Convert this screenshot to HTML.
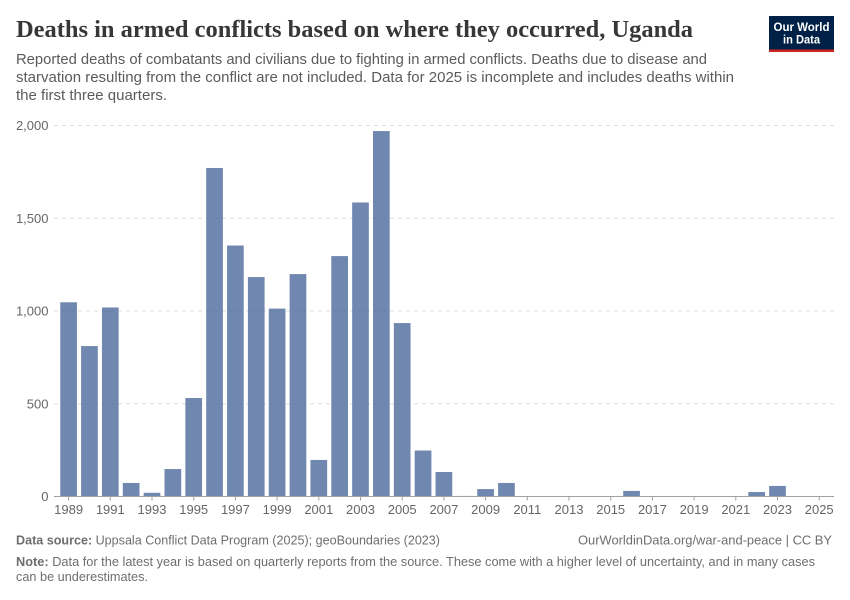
<!DOCTYPE html>
<html lang="en">
<head>
<meta charset="utf-8">
<title>Deaths in armed conflicts based on where they occurred, Uganda</title>
<style>
html,body{margin:0;padding:0;background:#fff;}
svg{display:block;}
text{font-family:"Liberation Sans",sans-serif;}
</style>
</head>
<body>
<svg id="chart" xmlns="http://www.w3.org/2000/svg" width="850" height="600" viewBox="0 0 850 600">
  <rect x="0" y="0" width="850" height="600" fill="#ffffff"/>
  <text x="16" y="37" font-size="24" font-weight="700" fill="#373737" textLength="677" lengthAdjust="spacingAndGlyphs" style='font-family:"Liberation Serif",serif'>Deaths in armed conflicts based on where they occurred, Uganda</text>
  <g font-size="14.5" fill="#5b5b5b">
    <text x="16" y="64" textLength="691" lengthAdjust="spacingAndGlyphs">Reported deaths of combatants and civilians due to fighting in armed conflicts. Deaths due to disease and</text>
    <text x="16" y="82" textLength="718" lengthAdjust="spacingAndGlyphs">starvation resulting from the conflict are not included. Data for 2025 is incomplete and includes deaths within</text>
    <text x="16" y="100" textLength="151" lengthAdjust="spacingAndGlyphs">the first three quarters.</text>
  </g>
  <g>
    <rect x="769" y="16" width="65" height="36" fill="#002147"/>
    <rect x="769" y="49.5" width="65" height="2.5" fill="#ce261e"/>
    <text x="801.5" y="31" font-size="12" font-weight="700" fill="#ffffff" text-anchor="middle" textLength="56" lengthAdjust="spacingAndGlyphs">Our World</text>
    <text x="801.5" y="43.5" font-size="12" font-weight="700" fill="#ffffff" text-anchor="middle" textLength="37" lengthAdjust="spacingAndGlyphs">in Data</text>
  </g>
  <g id="grid"></g>
  <g id="yLabels"></g>
  <g id="bars"></g>
  <g id="xAxis"></g>
  <text x="16" y="544.5" font-size="13" fill="#6e6e6e" textLength="424" lengthAdjust="spacingAndGlyphs"><tspan font-weight="700">Data source:</tspan> Uppsala Conflict Data Program (2025); geoBoundaries (2023)</text>
  <text x="832" y="544.5" font-size="13" fill="#6e6e6e" text-anchor="end" textLength="254" lengthAdjust="spacingAndGlyphs">OurWorldinData.org/war-and-peace | CC BY</text>
  <g font-size="13" fill="#6e6e6e">
    <text x="16" y="566" textLength="799" lengthAdjust="spacingAndGlyphs"><tspan font-weight="700">Note:</tspan> Data for the latest year is based on quarterly reports from the source. These come with a higher level of uncertainty, and in many cases</text>
    <text x="16" y="581" textLength="132" lengthAdjust="spacingAndGlyphs">can be underestimates.</text>
  </g>
</svg>
<script>
var years = [1989,1990,1991,1992,1993,1994,1995,1996,1997,1998,1999,2000,2001,2002,2003,2004,2005,2006,2007,2008,2009,2010,2011,2012,2013,2014,2015,2016,2017,2018,2019,2020,2021,2022,2023,2024,2025];
var deaths = [1047,811,1019,73,20,148,531,1771,1353,1183,1013,1199,197,1296,1585,1970,935,248,132,3,40,73,0,0,0,0,0,30,0,0,0,0,0,24,57,0,0];
var yTicks = [0,500,1000,1500,2000];
var yTickLabels = ["0","500","1,000","1,500","2,000"];
var xTickYears = [1989,1991,1993,1995,1997,1999,2001,2003,2005,2007,2009,2011,2013,2015,2017,2019,2021,2023,2025];

var NS = "http://www.w3.org/2000/svg";
var plotLeft = 54, plotRight = 834, plotTop = 125.5, plotBottom = 496.5;
var yMax = yTicks[yTicks.length - 1];
var firstX = 68.6, stepX = 20.85, barWidth = 16.7;

function xScale(year) { return firstX + (year - years[0]) * stepX; }
function yScale(value) { return plotBottom - (value / yMax) * (plotBottom - plotTop); }
function make(tag, attrs, parent) {
  var el = document.createElementNS(NS, tag);
  for (var k in attrs) { el.setAttribute(k, attrs[k]); }
  parent.appendChild(el);
  return el;
}

var grid = document.getElementById("grid");
var yLabels = document.getElementById("yLabels");
var barsG = document.getElementById("bars");
var xAxis = document.getElementById("xAxis");

yTicks.forEach(function (t, i) {
  if (t !== 0) {
    var line = make("line", {x1: plotLeft, x2: plotRight, y1: yScale(t), y2: yScale(t), stroke: "#dddddd", "stroke-width": 1, "stroke-dasharray": "4,4"}, grid);
    
    
  }
  var label = make("text", {x: 48.5, y: yScale(t) + 4.5, "font-size": 13, fill: "#666666", "text-anchor": "end"}, yLabels);
  
  
  label.textContent = yTickLabels[i];
});

years.forEach(function (year, i) {
  var v = deaths[i];
  if (v <= 0) { return; }
  var top = yScale(v);
  var bar = make("rect", {x: xScale(year) - barWidth / 2, y: top, width: barWidth, height: plotBottom - top, fill: "#4c6a9c", "fill-opacity": 0.8}, barsG);
  
  
});

var axisLine = make("line", {x1: plotLeft, x2: plotRight, y1: plotBottom, y2: plotBottom, stroke: "#a1a1a1", "stroke-width": 1}, xAxis);



xTickYears.forEach(function (year) {
  var x = xScale(year);
  var tick = make("line", {x1: x, x2: x, y1: plotBottom, y2: plotBottom + 4, stroke: "#a1a1a1", "stroke-width": 1}, xAxis);
  
  
  var label = make("text", {x: x, y: 514, "font-size": 13, fill: "#666666", "text-anchor": "middle"}, xAxis);
  
  
  label.textContent = year;
});
</script>
</body>
</html>
